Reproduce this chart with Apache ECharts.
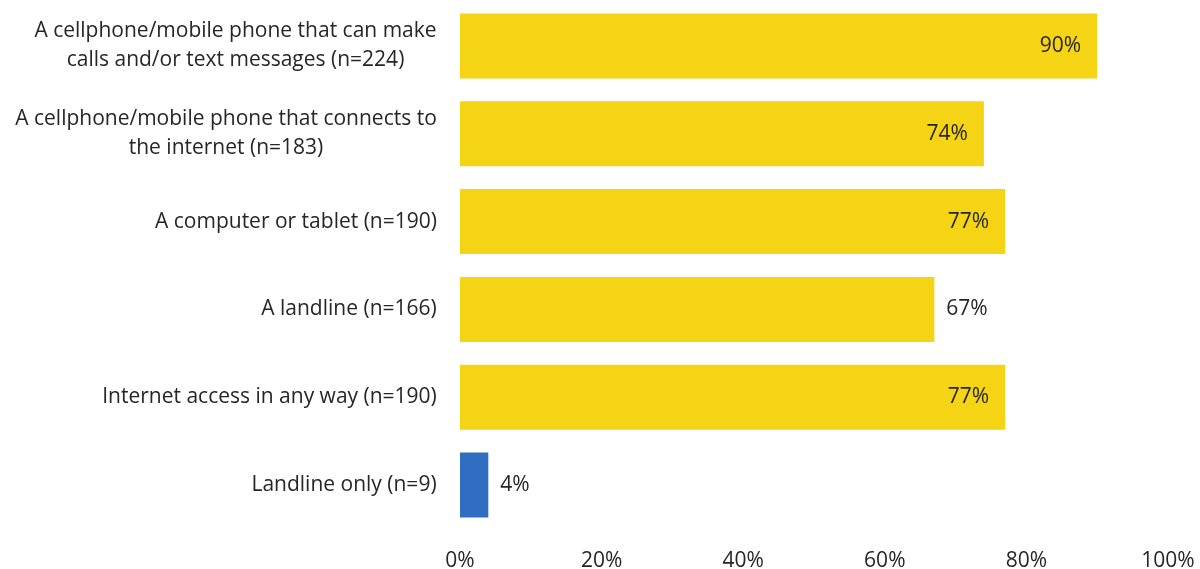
<!DOCTYPE html>
<html>
<head>
<meta charset="utf-8">
<script src="https://cdn.jsdelivr.net/npm/echarts@6/dist/echarts.min.js"></script>
<style>
  html, body { margin: 0; padding: 0; background: #fff; }
  #chart { width: 1200px; height: 569px; }
</style>
</head>
<body>
<div id="chart"></div>
<script>
// data
const categories = [
  'A cellphone/mobile phone that can make\ncalls and/or text messages (n=224)',
  'A cellphone/mobile phone that connects to\nthe internet (n=183)',
  'A computer or tablet (n=190)',
  'A landline (n=166)',
  'Internet access in any way (n=190)',
  'Landline only (n=9)'
];
const values = [90, 74, 77, 67, 77, 4];
const labelInside = [true, true, true, false, true, false];

const FONT = 'Open Sans';
const FS = 21;
const YELLOW = '#F5D415';
const BLUE = '#2E6DBF';
const TEXT = '#262626';

// measure text so multi-line labels can be centred line by line
const ctx = document.createElement('canvas').getContext('2d');
ctx.font = FS + 'px "' + FONT + '"';
const rich = {};
categories.forEach((c, i) => {
  const w = Math.max(...c.split('\n').map(l => ctx.measureText(l).width));
  rich['c' + i] = { width: Math.ceil(w), align: 'center', fontSize: FS, fontFamily: FONT, color: TEXT, lineHeight: 29 };
});

const chart = echarts.init(document.getElementById('chart'));

chart.setOption({
  animation: false,
  grid: { left: 460, right: 32, top: 2, bottom: 40, containLabel: false, outerBoundsMode: 'none' },
  xAxis: {
    type: 'value',
    min: 0,
    max: 100,
    interval: 20,
    axisLine: { show: false },
    axisTick: { show: false },
    splitLine: { show: false },
    axisLabel: {
      margin: 22,
      fontSize: FS,
      fontFamily: FONT,
      color: TEXT,
      formatter: v => v + '%'
    }
  },
  yAxis: {
    type: 'category',
    inverse: true,
    data: categories,
    axisLine: { show: false },
    axisTick: { show: false },
    axisLabel: {
      margin: 23,
      align: 'right',
      formatter: (v, i) => v.split('\n').map(l => '{c' + i + '|' + l + '}').join('\n'),
      rich: rich
    }
  },
  series: [{
    type: 'bar',
    barWidth: 65,
    data: values.map((v, i) => ({
      value: v,
      itemStyle: { color: i === values.length - 1 ? BLUE : YELLOW },
      label: labelInside[i]
        ? { position: 'insideRight', distance: 16 }
        : { position: 'right', distance: 12 }
    })),
    label: {
      show: true,
      fontSize: FS,
      fontFamily: FONT,
      color: TEXT,
      formatter: p => p.value + '%'
    }
  }]
});
</script>
</body>
</html>
